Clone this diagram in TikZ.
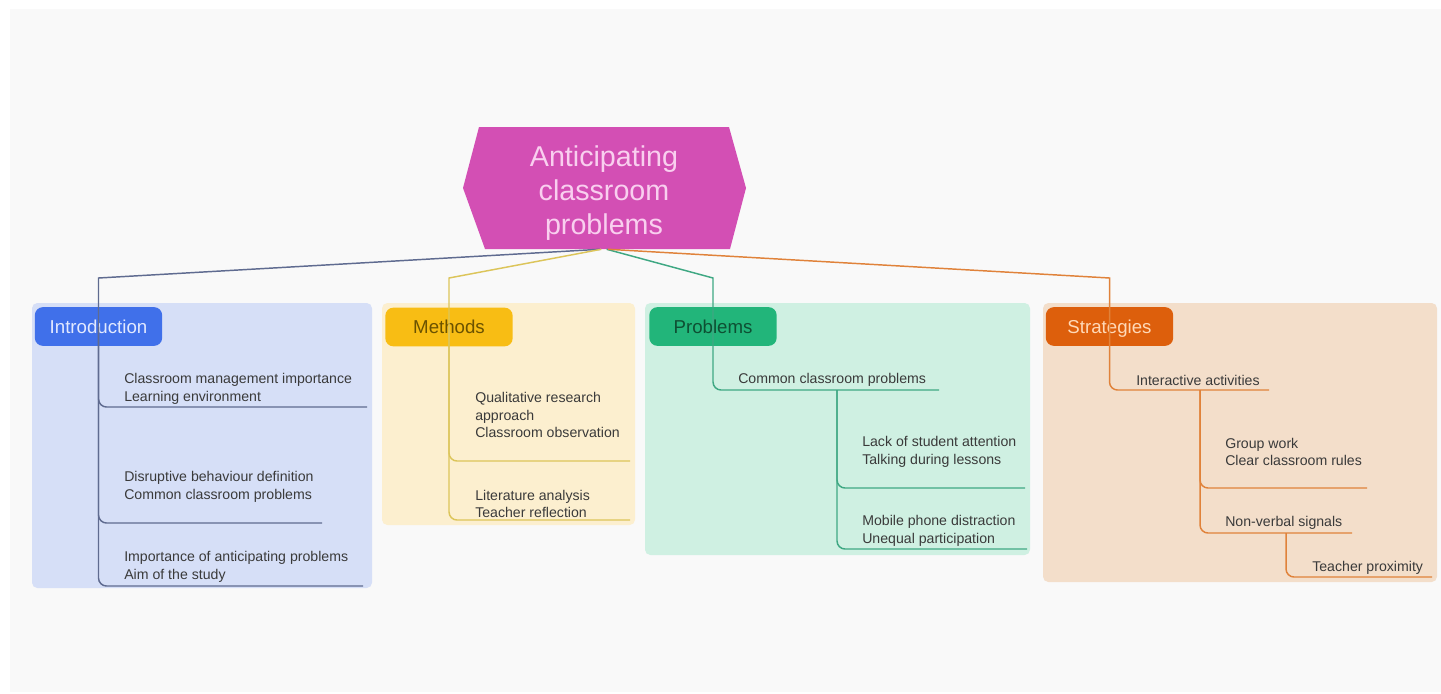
\documentclass[tikz,border=0pt]{standalone}
\usepackage{fontspec}
\setmainfont{Liberation Sans}
\definecolor{bg}{HTML}{F9F9F9}
\definecolor{rootc}{HTML}{D34FB4}
\definecolor{rootText}{HTML}{F9CFEF}
\definecolor{itemtext}{HTML}{3A3A3A}
\definecolor{introPanel}{HTML}{D6DFF7}
\definecolor{introLbl}{HTML}{4070EA}
\definecolor{introTxt}{HTML}{E2E9FF}
\definecolor{introLine}{HTML}{5F6B90}
\definecolor{methPanel}{HTML}{FCEFCF}
\definecolor{methLbl}{HTML}{F8BD14}
\definecolor{methTxt}{HTML}{6B5200}
\definecolor{methLine}{HTML}{DCC55A}
\definecolor{probPanel}{HTML}{CFF0E2}
\definecolor{probLbl}{HTML}{22B57A}
\definecolor{probTxt}{HTML}{0E4F33}
\definecolor{probLine}{HTML}{3FA883}
\definecolor{stratPanel}{HTML}{F3DECA}
\definecolor{stratLbl}{HTML}{DD5F0C}
\definecolor{stratTxt}{HTML}{FFD9B8}
\definecolor{stratLine}{HTML}{E0823A}
\begin{document}
\begin{tikzpicture}[x=0.75pt,y=-0.75pt,
  item/.style={anchor=west, inner sep=0pt, align=left, font=\fontsize{10.6}{13.3}\selectfont, text=itemtext},
  lbl/.style={rounded corners=6pt, minimum width=95.5pt, minimum height=29pt, inner sep=0pt, text height=10pt, text depth=0pt, font=\fontsize{14}{16}\selectfont},
  panel/.style={rounded corners=4pt},
  conn/.style={line width=1.1pt, rounded corners=6pt},
  rootconn/.style={line width=1.1pt}]
\useasboundingbox (0,0) rectangle (1441,693);
\fill[white] (0,0) rectangle (1441,693);
\fill[bg] (10,9) rectangle (1441,692);
% panels
\fill[introPanel, panel] (32,303) rectangle (372,588);
\fill[methPanel, panel] (382,303) rectangle (635,525);
\fill[probPanel, panel] (645,303) rectangle (1030,555);
\fill[stratPanel, panel] (1043,303) rectangle (1437,582);
% root hexagon
\fill[rootc] (479,127) -- (729,127) -- (746,188) -- (730,249) -- (485,249) -- (463,188) -- cycle;
\node[minimum width=187.5pt, minimum height=84pt, inner sep=0pt, align=center,
      font=\fontsize{21.5}{25.5}\selectfont, text=rootText] (root) at (604,193) {Anticipating\\classroom\\problems};
% section labels
\node[lbl, fill=introLbl, text=introTxt] (intro) at (98.5,326.5) {Introduction};
\node[lbl, fill=methLbl, text=methTxt] (meth) at (449,327) {Methods};
\node[lbl, fill=probLbl, text=probTxt] (prob) at (713,326.5) {Problems};
\node[lbl, fill=stratLbl, text=stratTxt] (strat) at (1109.5,326.5) {Strategies};
% introduction items
\node[item] (i1) at (124,389) {Classroom management importance\\Learning environment};
\coordinate (i1e) at (367,407);
\node[item] (i2) at (124,487) {Disruptive behaviour definition\\Common classroom problems};
\coordinate (i2e) at (322,523);
\node[item] (i3) at (124,567) {Importance of anticipating problems\\Aim of the study};
\coordinate (i3e) at (363,586);
% methods items
\node[item] (m1) at (475,415) {Qualitative research\\approach\\Classroom observation};
\coordinate (m1e) at (630,461);
\node[item] (m2) at (475,504) {Literature analysis\\Teacher reflection};
\coordinate (m2e) at (630,520);
% problems items
\node[item] (p1) at (738,380) {Common classroom problems};
\coordinate (p1e) at (939,390);
\coordinate (p1b) at (837,390);
\node[item] (p2) at (862,452) {Lack of student attention\\Talking during lessons};
\coordinate (p2e) at (1025,488);
\node[item] (p3) at (862,531) {Mobile phone distraction\\Unequal participation};
\coordinate (p3e) at (1027,549);
% strategies items
\node[item] (s1) at (1136,380) {Interactive activities};
\coordinate (s1e) at (1269,390);
\coordinate (s1b) at (1200,390);
\node[item] (s2) at (1225,452) {Group work\\Clear classroom rules};
\coordinate (s2e) at (1367,488);
\node[item] (s3) at (1225,523) {Non-verbal signals};
\coordinate (s3e) at (1352,533);
\coordinate (s3b) at (1286,533);
\node[item] (s4) at (1312,568) {Teacher proximity};
\coordinate (s4e) at (1432,577);
% root connectors
\draw[rootconn, introLine] ([xshift=-3pt]root.south) -- (intro.center |- 0,278) -- (intro.center);
\draw[rootconn, methLine] ([xshift=-2pt]root.south) -- (meth.center |- 0,278) -- (meth.center);
\draw[rootconn, probLine] ([xshift=2pt]root.south) -- (prob.center |- 0,278) -- (prob.center);
\draw[rootconn, stratLine] ([xshift=3pt]root.south) -- (strat.center |- 0,278) -- (strat.center);
% introduction connectors
\draw[conn, introLine] (intro.center) |- (i1e);
\draw[conn, introLine] (intro.center) |- (i2e);
\draw[conn, introLine] (intro.center) |- (i3e);
% methods connectors
\draw[conn, methLine] (meth.center) |- (m1e);
\draw[conn, methLine] (meth.center) |- (m2e);
% problems connectors
\draw[conn, probLine] (prob.center) |- (p1e);
\draw[conn, probLine] (p1b) |- (p2e);
\draw[conn, probLine] (p1b) |- (p3e);
% strategies connectors
\draw[conn, stratLine] (strat.center) |- (s1e);
\draw[conn, stratLine] (s1b) |- (s2e);
\draw[conn, stratLine] (s1b) |- (s3e);
\draw[conn, stratLine] (s3b) |- (s4e);
\end{tikzpicture}
\end{document}
